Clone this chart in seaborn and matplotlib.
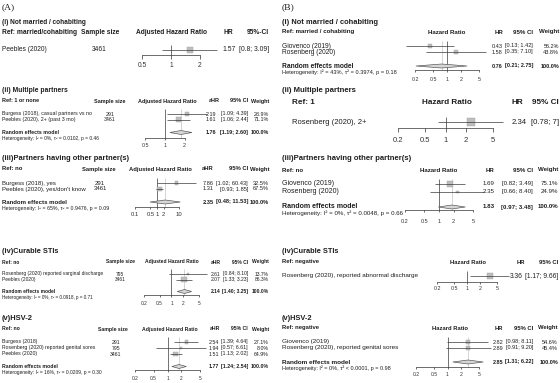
import numpy as np
import pandas as pd
import matplotlib
matplotlib.use("Agg")
import matplotlib.pyplot as plt
from matplotlib.ticker import NullLocator
import seaborn as sns

W, H = 560, 383

# ---------------- data ----------------
# (A) adjusted hazard ratios
a1_study = ["Peebles (2020)"]
a1_n = ["3461"]
a1_hr = [1.57]
a1_lo = [0.80]
a1_hi = [3.09]
a1_ci = ["[0.8; 3.09]"]

a2_study = ["Burgess (2018), casual partners vs no", "Peebles (2020), 2+ (past 3 mo)"]
a2_n = ["291", "3461"]
a2_hr = [2.19, 1.61]
a2_lo = [1.09, 1.06]
a2_hi = [4.39, 2.44]
a2_w = [28.9, 71.1]
a2_re = [1.76, 1.19, 2.60]
a2_het = "Heterogeneity: I² = 0%, τ² = 0.0102, p = 0.46"

a3_study = ["Burgess (2018), yes", "Peebles (2020), yes/don't know"]
a3_n = ["291", "3461"]
a3_hr = [7.86, 1.31]
a3_lo = [1.02, 0.93]
a3_hi = [60.43, 1.85]
a3_w = [32.5, 67.5]
a3_re = [2.35, 0.48, 11.53]
a3_het = "Heterogeneity: I² = 65%, τ² = 0.9476, p = 0.09"

a4_study = ["Rosenberg (2020) reported varginal discharge", "Peebles (2020)"]
a4_n = ["795", "3461"]
a4_hr = [2.61, 2.07]
a4_lo = [0.84, 1.33]
a4_hi = [8.10, 3.23]
a4_w = [13.7, 86.3]
a4_re = [2.14, 1.40, 3.25]
a4_het = "Heterogeneity: I² = 0%, τ² = 0.0918, p = 0.71"

a5_study = ["Burgess (2018)", "Rosenberg (2020) reported genital sores", "Peebles (2020)"]
a5_n = ["291", "795", "3461"]
a5_hr = [2.54, 1.94, 1.51]
a5_lo = [1.39, 0.57, 1.13]
a5_hi = [4.64, 6.61, 2.02]
a5_w = [27.1, 8.0, 64.9]
a5_re = [1.77, 1.24, 2.54]
a5_het = "Heterogeneity: I² = 16%, τ² = 0.0209, p = 0.30"

# (B) hazard ratios
b1_study = ["Giovenco (2019)", "Rosenberg (2020)"]
b1_hr = [0.43, 1.58]
b1_lo = [0.13, 0.35]
b1_hi = [1.42, 7.10]
b1_w = [56.2, 43.8]
b1_re = [0.76, 0.21, 2.75]
b1_het = "Heterogeneity: I² = 43%, τ² = 0.3974, p = 0.18"

b2_study = ["Rosenberg (2020), 2+"]
b2_hr = [2.34]
b2_lo = [0.78]
b2_hi = [7.0]
b2_ci = ["[0.78; 7]"]

b3_study = ["Giovenco (2019)", "Rosenberg (2020)"]
b3_hr = [1.69, 2.35]
b3_lo = [0.82, 0.66]
b3_hi = [3.49, 8.40]
b3_w = [75.1, 24.9]
b3_re = [1.83, 0.97, 3.48]
b3_het = "Heterogeneity: I² = 0%, τ² = 0.0048, p = 0.66"

b4_study = ["Rosenberg (2020), reported abnormal discharge"]
b4_hr = [3.36]
b4_lo = [1.17]
b4_hi = [9.66]

b5_study = ["Giovenco (2019)", "Rosenberg (2020), reported genital sores"]
b5_hr = [2.82, 2.89]
b5_lo = [0.98, 0.91]
b5_hi = [8.11, 9.20]
b5_w = [54.6, 45.4]
b5_re = [2.85, 1.31, 6.22]
b5_het = "Heterogeneity: I² = 0%, τ² < 0.0001, p = 0.98"

ticks_a12 = [0.5, 1, 2]
ticks_a3 = [0.1, 0.5, 1, 2, 10]
ticks_std = [0.2, 0.5, 1, 2, 5]
ticklabels_a12 = ["0.5", "1", "2"]
ticklabels_a3 = ["0.1", "0.5", "1", "2", "10"]
ticklabels_std = ["0.2", "0.5", "1", "2", "5"]

# ---------------- style ----------------
sns.set_theme(style="white")
plt.rcParams["font.family"] = ["Liberation Sans", "DejaVu Sans"]
TXT = "#1e1e1e"

fig = plt.figure(figsize=(W / 100, H / 100), dpi=100)
RND = fig.canvas.get_renderer()


def txt(x, y, s, size, weight="normal", ha="left", family=None):
    kw = {}
    if family:
        kw["family"] = family
    return fig.text(x / W, 1 - y / H, s, fontsize=size, fontweight=weight,
                    ha=ha, va="center", color=TXT, **kw)


def px_left(t):
    return t.get_window_extent(renderer=RND).x0


def px_width(t):
    b = t.get_window_extent(renderer=RND)
    return b.x1 - b.x0


def panel(P):
    x0 = P["x0"]
    lx = P.get("lx", x0)
    txt(x0, P["ty"], P["title"], P["tsize"], "bold")
    txt(lx, P["hy"], P["ref"], P["hsize"], "bold")
    for s, x, ha in P["hdr"]:
        txt(x, P["hy"], s, P["hsize"], "bold", ha)

    study, hr, lo, hi = P["study"], P["hr"], P["lo"], P["hi"]
    w = P.get("w")
    ci = P.get("ci") or [f"[{a:.2f}; {b:.2f}]" for a, b in zip(lo, hi)]
    ys = P["rows"]
    rs = P["rsize"]
    ss = P["ssize"]
    re = P.get("re")
    ci_objs, hr_objs = [], []
    for i, y in enumerate(ys):
        txt(lx, y, study[i], rs)
        if P.get("n") is not None:
            txt(P["nx"], y, P["n"][i], rs, ha="center")
        hr_objs.append(txt(P["hrx"], y, f"{hr[i]:.2f}", ss))
        ci_objs.append(txt(P["cix"], y, ci[i], ss, ha="right"))
        if w is not None:
            txt(P["wx"], y, f"{w[i]:.1f}%", ss, ha="right")
    if re is not None:
        ry = P["re_y"]
        txt(lx, ry, "Random effects model", rs, "bold")
        hr_objs.append(txt(P["hrx"], ry, f"{re[0]:.2f}", ss, "bold"))
        ci_objs.append(txt(P["cix"], ry, f"[{re[1]:.2f}; {re[2]:.2f}]", ss, "bold", "right"))
        txt(P["wx"], ry, "100.0%", ss, "bold", "right")
        txt(lx, P["het_y"], P["het"], P["hetsize"])
    # keep one space between the HR column and the CI column
    gap = 0.3 * ss / 0.72
    ci_left = min(px_left(t) for t in ci_objs)
    hr_w = max(px_width(t) for t in hr_objs)
    hx = min(P["hrx"], ci_left - gap - hr_w)
    for t in hr_objs:
        t.set_x(hx / W)

    # ----- forest axes -----
    px1, ppd, ticks = P["px1"], P["ppd"], P["ticks"]
    t_lo = px1 + ppd * np.log10(ticks[0])
    t_hi = px1 + ppd * np.log10(ticks[-1])
    axl, axr = t_lo - 3, t_hi + 3
    top = P["hy"] + 4
    ay = P["axis"]
    ax = fig.add_axes([axl / W, 1 - ay / H, (axr - axl) / W, (ay - top) / H])
    ax.set_xscale("log")
    ax.patch.set_alpha(0)

    ww = w if w is not None else [100.0] * len(hr)
    df = pd.DataFrame({"hr": hr, "y": ys, "w": ww})
    k = P.get("boxk", 6.0)
    sns.scatterplot(data=df, x="hr", y="y", size="w", size_norm=(0, 100),
                    sizes=(0, (k * 0.72) ** 2), marker="s", color="#bdbdbd",
                    edgecolor="#a3a3a3", linewidth=0.3, legend=False, ax=ax,
                    zorder=3, clip_on=False)
    ax.hlines(ys, lo, hi, colors="#3a3a3a", linewidth=0.5, zorder=4, clip_on=False)
    ax.scatter(hr, ys, s=0.35, marker="s", color="#4a4a4a", zorder=5, linewidths=0,
               clip_on=False)

    ref_top = ys[0] - 5
    if re is not None:
        ry = P["re_y"]
        dh = P.get("dh", 2.0)
        ax.fill([re[1], re[0], re[2], re[0]], [ry, ry - dh, ry, ry + dh],
                facecolor="#d6d6d6", edgecolor="#4d4d4d", linewidth=0.45,
                zorder=4, clip_on=False)
        ax.vlines(re[0], ref_top, ay, colors="#c4c4c4", linewidth=0.5,
                  zorder=2, clip_on=False)
    ax.vlines(1, ref_top, ay, colors="#3a3a3a", linewidth=0.5, zorder=2, clip_on=False)

    ax.set_xlim(10 ** ((axl - px1) / ppd), 10 ** ((axr - px1) / ppd))
    ax.set_ylim(ay, top)
    ax.set_xlabel("")
    ax.set_ylabel("")
    ax.set_yticks([])
    ax.set_xticks(ticks, labels=P["ticklabels"])
    ax.xaxis.set_minor_locator(NullLocator())
    tl_pt = P.get("tl", 1.6)
    ts = P["tks"]
    pad = max(0.3, (P["off"] - tl_pt / 0.72 - 0.62 * ts / 0.72) * 0.72)
    ax.tick_params(axis="x", direction="out", length=tl_pt, width=0.5,
                   labelsize=ts, pad=pad, colors="#333333", bottom=True)
    for s in ("top", "left", "right"):
        ax.spines[s].set_visible(False)
    ax.spines["bottom"].set_bounds(ticks[0], ticks[-1])
    ax.spines["bottom"].set_linewidth(0.5)
    ax.spines["bottom"].set_color("#333333")


def hdrA(ss, ahr, ahrx):
    return [("Sample size", ss, "center"), ("Adjusted Hazard Ratio", ahr, "center"),
            ("aHR", ahrx, "center"), ("95% CI", 248, "right"), ("Weight", 269, "right")]


panels = [
    dict(x0=2, title="(i) Not married / cohabiting", ty=22, tsize=4.7,
         ref="Ref: married/cohabiting", hy=33, hsize=4.8,
         hdr=[("Sample size", 100, "center"), ("Adjusted Hazard Ratio", 171, "center"),
              ("HR", 228, "center"), ("95%-CI", 269, "right")],
         study=a1_study, n=a1_n, hr=a1_hr, lo=a1_lo, hi=a1_hi, ci=a1_ci,
         rows=[49.5], rsize=4.8, ssize=4.9, nx=99, hrx=222, cix=269,
         axis=55, px1=171, ppd=94.7, ticks=ticks_a12, ticklabels=ticklabels_a12,
         tks=4.8, off=11.5, tl=3.2, boxk=6.5),
    dict(x0=2, title="(ii) Multiple partners", ty=90, tsize=4.9,
         ref="Ref: 1 or none", hy=101, hsize=4.0,
         hdr=hdrA(110, 167, 214),
         study=a2_study, n=a2_n, hr=a2_hr, lo=a2_lo, hi=a2_hi, w=a2_w, re=a2_re,
         het=a2_het, rows=[114, 119.5], rsize=3.8, ssize=3.9, nx=110, hrx=206,
         cix=248, wx=269, re_y=132.5, het_y=138.5, hetsize=3.5,
         axis=138, px1=165, ppd=64.8, ticks=ticks_a12, ticklabels=ticklabels_a12,
         tks=3.8, off=8.5),
    dict(x0=2, title="(iii)Partners having other partner(s)", ty=159, tsize=5.45,
         ref="Ref: no", hy=169, hsize=4.2,
         hdr=hdrA(99, 160, 208),
         study=a3_study, n=a3_n, hr=a3_hr, lo=a3_lo, hi=a3_hi, w=a3_w, re=a3_re,
         het=a3_het, rows=[183, 189], rsize=4.3, ssize=4.1, nx=100, hrx=203,
         cix=248, wx=269, re_y=202, het_y=208.5, hetsize=3.75,
         axis=207, px1=157, ppd=22, ticks=ticks_a3, ticklabels=ticklabels_a3,
         tks=4.2, off=9),
    dict(x0=2, title="(iv)Curable STIs", ty=251, tsize=5.3,
         ref="Ref: no", hy=262, hsize=3.6,
         hdr=hdrA(120, 172, 216),
         study=a4_study, n=a4_n, hr=a4_hr, lo=a4_lo, hi=a4_hi, w=a4_w, re=a4_re,
         het=a4_het, rows=[274, 279.5], rsize=3.55, ssize=3.65, nx=120, hrx=212,
         cix=248, wx=269, re_y=291.5, het_y=297, hetsize=3.3,
         axis=295, px1=171.5, ppd=39.3, ticks=ticks_std, ticklabels=ticklabels_std,
         tks=3.5, off=9),
    dict(x0=2, title="(v)HSV-2", ty=318, tsize=5.4,
         ref="Ref: no", hy=329, hsize=3.7,
         hdr=hdrA(113, 170, 215),
         study=a5_study, n=a5_n, hr=a5_hr, lo=a5_lo, hi=a5_hi, w=a5_w, re=a5_re,
         het=a5_het, rows=[342, 348, 354], rsize=3.7, ssize=3.75, nx=116, hrx=211,
         cix=248, wx=269, re_y=366.5, het_y=372.5, hetsize=3.5,
         axis=370, px1=167.5, ppd=46.5, ticks=ticks_std, ticklabels=ticklabels_std,
         tks=3.5, off=9),
    dict(x0=282, title="(i) Not married / cohabiting", ty=22, tsize=5.4,
         ref="Ref: married / cohabiting", hy=32, hsize=4.4,
         hdr=[("Hazard Ratio", 447, "center"), ("HR", 499, "center"),
              ("95% CI", 533, "right"), ("Weight", 559, "right")],
         study=b1_study, hr=b1_hr, lo=b1_lo, hi=b1_hi, w=b1_w, re=b1_re, het=b1_het,
         rows=[46, 52], rsize=4.8, ssize=3.95, hrx=496, cix=533, wx=559,
         re_y=66, het_y=72, hetsize=4.1,
         axis=70, px1=447, ppd=45.8, ticks=ticks_std, ticklabels=ticklabels_std,
         tks=3.8, off=10),
    dict(x0=282, lx=292, title="(ii) Multiple partners", ty=90, tsize=5.6,
         ref="Ref: 1", hy=103, hsize=5.9,
         hdr=[("Hazard Ratio", 447, "center"), ("HR", 517, "center"),
              ("95% CI", 559, "right")],
         study=b2_study, hr=b2_hr, lo=b2_lo, hi=b2_hi, ci=b2_ci,
         rows=[122], rsize=5.5, ssize=5.6, hrx=512, cix=559,
         axis=128, px1=445.5, ppd=68, ticks=ticks_std, ticklabels=ticklabels_std,
         tks=5.5, off=14, tl=3.2, boxk=7.5),
    dict(x0=282, title="(iii)Partners having other partner(s)", ty=159, tsize=5.5,
         ref="Ref: no", hy=170, hsize=4.4,
         hdr=[("Hazard Ratio", 439, "center"), ("HR", 490, "center"),
              ("95% CI", 533, "right"), ("Weight", 558, "right")],
         study=b3_study, hr=b3_hr, lo=b3_lo, hi=b3_hi, w=b3_w, re=b3_re, het=b3_het,
         rows=[184, 192], rsize=5.0, ssize=4.4, hrx=483, cix=533, wx=558,
         re_y=207, het_y=213.5, hetsize=4.4,
         axis=210, px1=439, ppd=48.6, ticks=ticks_std, ticklabels=ticklabels_std,
         tks=4.0, off=12),
    dict(x0=282, title="(iv)Curable STIs", ty=251, tsize=5.3,
         ref="Ref: negative", hy=262, hsize=4.2,
         hdr=[("Hazard Ratio", 468, "center"), ("HR", 521, "center"),
              ("95% CI", 558, "right")],
         study=b4_study, hr=b4_hr, lo=b4_lo, hi=b4_hi,
         rows=[276], rsize=4.6, ssize=4.8, hrx=510, cix=558,
         axis=282, px1=467, ppd=42.9, ticks=ticks_std, ticklabels=ticklabels_std,
         tks=3.8, off=7, boxk=5.5),
    dict(x0=282, title="(v)HSV-2", ty=318, tsize=5.3,
         ref="Ref: negative", hy=328, hsize=4.2,
         hdr=[("Hazard Ratio", 450, "center"), ("HR", 499, "center"),
              ("95% CI", 533, "right"), ("Weight", 558, "right")],
         study=b5_study, hr=b5_hr, lo=b5_lo, hi=b5_hi, w=b5_w, re=b5_re, het=b5_het,
         rows=[342, 348], rsize=4.6, ssize=3.95, hrx=496, cix=533, wx=558,
         re_y=362, het_y=368, hetsize=4.0,
         axis=367, px1=447.5, ppd=45.1, ticks=ticks_std, ticklabels=ticklabels_std,
         tks=3.6, off=8),
]

for P in panels:
    panel(P)

txt(2, 7, "(A)", 6.8, family=["Liberation Serif", "DejaVu Serif"])
txt(282, 7, "(B)", 6.8, family=["Liberation Serif", "DejaVu Serif"])

fig.savefig("out.png", dpi=100)
